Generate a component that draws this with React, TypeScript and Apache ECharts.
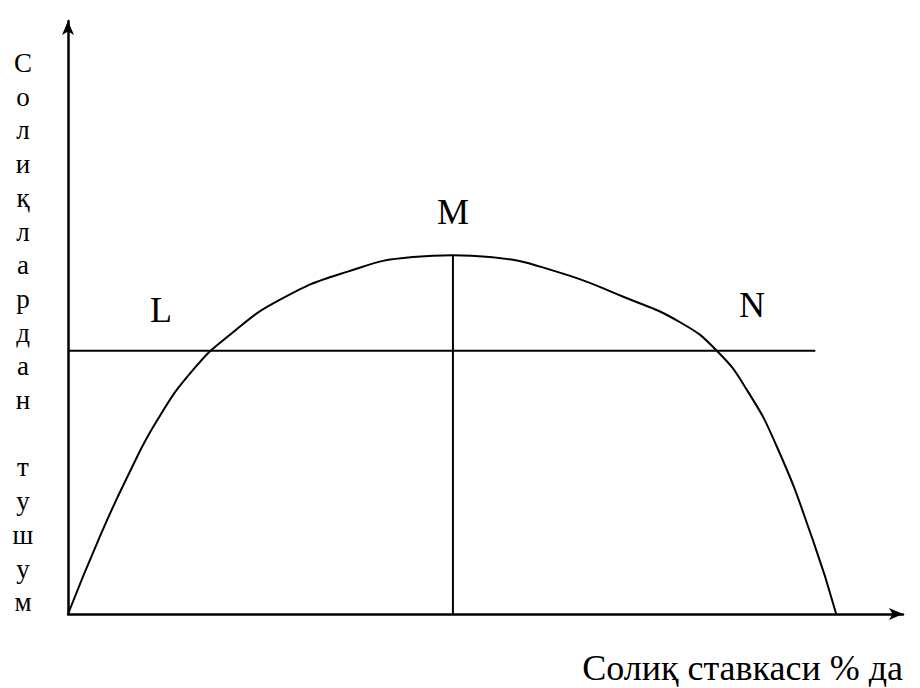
import React, { useEffect, useRef } from "react";
import * as echarts from "echarts";

// Laffer curve points: tax rate (x) and revenue (y), axis units 0..100
const curveX = [0, 3.8, 7.1, 10.7, 15.0, 19.4, 25.4, 33.4, 41.3, 46.1, 50.5, 58.6, 66.5, 73.3, 77.7, 81.3, 84.9, 89.2, 92.0];
const curveY = [0, 13.0, 23.1, 32.7, 41.2, 47.1, 53.0, 57.7, 60.2, 60.5, 60.2, 57.7, 53.5, 49.2, 44.4, 37.8, 28.2, 12.5, 0];

const levelLineX = [0, 89.5];
const levelLineY = [44.4, 44.4];
const peakLineX = [46.1, 46.1];
const peakLineY = [0, 60.5];

const pointLabels = ["L", "M", "N"];
const yAxisTitle = "Солиқлардан тушум";
const xAxisTitle = "Солиқ ставкаси % да";

const FONT = "'Liberation Serif', 'DejaVu Serif', serif";

export default function App() {
  const ref = useRef<HTMLDivElement>(null);
  useEffect(() => {
    if (!ref.current) return;
    const chart = echarts.init(ref.current, undefined, { renderer: "svg" });

    const curve = curveX.map((x, i) => [x, curveY[i]]);
    const level = levelLineX.map((x, i) => [x, levelLineY[i]]);
    const peak = peakLineX.map((x, i) => [x, peakLineY[i]]);

    const labelPos = [
      { x: 161, y: 310 },
      { x: 453, y: 212 },
      { x: 752, y: 305 },
    ];

    const chars = yAxisTitle.split("").map((c) => (c === " " ? "" : c));
    const vertical = chars.map((c, i) => ({
      type: "text",
      x: 23,
      y: 72 + i * 33.7 - 9,
      style: {
        text: c,
        font: `27px ${FONT}`,
        fill: "#000",
        align: "center",
        verticalAlign: "middle",
      },
    }));

    chart.setOption({
      animation: false,
      backgroundColor: "#fff",
      grid: { left: 68, right: 17, top: 21, bottom: 74 },
      xAxis: {
        type: "value",
        min: 0,
        max: 100,
        axisLine: {
          show: true,
          onZero: false,
          symbol: ["none", "arrow"],
          symbolSize: [9, 14],
          lineStyle: { color: "#000", width: 2.5 },
        },
        axisTick: { show: false },
        axisLabel: { show: false },
        splitLine: { show: false },
      },
      yAxis: {
        type: "value",
        min: 0,
        max: 100,
        axisLine: {
          show: true,
          onZero: false,
          symbol: ["none", "arrow"],
          symbolSize: [9, 14],
          lineStyle: { color: "#000", width: 2.5 },
        },
        axisTick: { show: false },
        axisLabel: { show: false },
        splitLine: { show: false },
      },
      series: [
        {
          type: "line",
          data: curve,
          smooth: 0.5,
          symbol: "none",
          lineStyle: { color: "#000", width: 2 },
        },
        {
          type: "line",
          data: level,
          symbol: "none",
          lineStyle: { color: "#000", width: 2 },
        },
        {
          type: "line",
          data: peak,
          symbol: "none",
          lineStyle: { color: "#000", width: 2 },
        },
      ],
      graphic: [
        ...pointLabels.map((t, i) => ({
          type: "text",
          x: labelPos[i].x,
          y: labelPos[i].y,
          style: {
            text: t,
            font: `36px ${FONT}`,
            fill: "#000",
            align: "center",
            verticalAlign: "middle",
          },
        })),
        ...vertical,
        {
          type: "text",
          x: 903,
          y: 668,
          style: {
            text: xAxisTitle,
            font: `36px ${FONT}`,
            fill: "#000",
            align: "right",
            verticalAlign: "middle",
          },
        },
      ],
    });
    return () => chart.dispose();
  }, []);
  return (
    <div
      ref={ref}
      style={{ position: "absolute", left: 0, top: 0, width: 920, height: 688 }}
    />
  );
}
